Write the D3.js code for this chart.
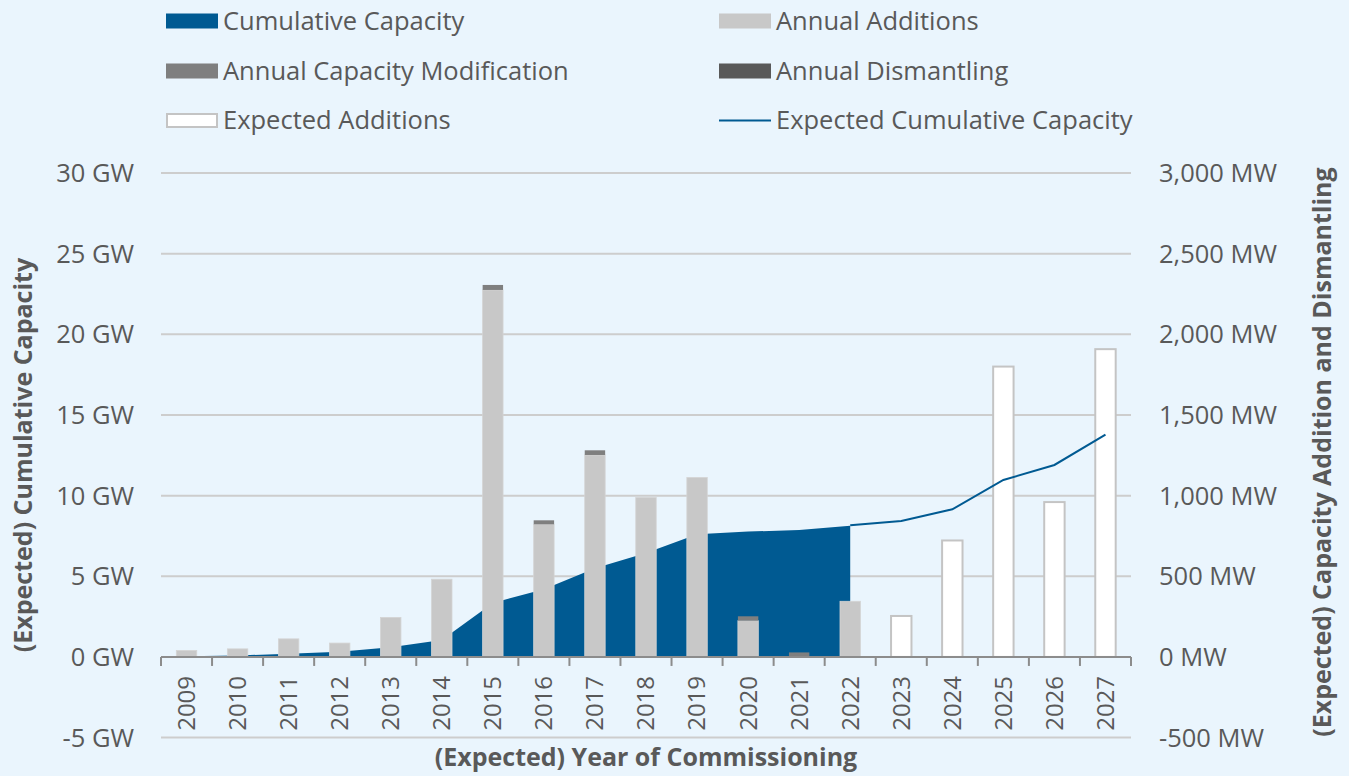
<!DOCTYPE html>
<html>
<head>
<meta charset="utf-8">
<script src="https://cdnjs.cloudflare.com/ajax/libs/d3/7.8.5/d3.min.js"></script>
<style>
  html, body { margin: 0; padding: 0; background: #EAF5FD; }
  svg { display: block; font-family: "Open Sans", "Noto Sans", sans-serif; }
  text { fill: #595959; }
</style>
</head>
<body>
<div id="chart"></div>
<script>
// data
const years = ["2009","2010","2011","2012","2013","2014","2015","2016","2017","2018","2019","2020","2021","2022","2023","2024","2025","2026","2027"];
const cumulativeGW = [0.04,0.09,0.2,0.32,0.6,1.05,3.35,4.2,5.5,6.45,7.6,7.77,7.87,8.14,null,null,null,null,null];
const expectedCumulativeGW = [null,null,null,null,null,null,null,null,null,null,null,null,null,8.16,8.43,9.15,10.97,11.9,13.78];
const additionsMW = [40,50,112,86,245,482,2275,822,1252,988,1112,225,0,345,0,0,0,0,0];
const modificationMW = [0,0,0,0,0,0,31,25,29,0,0,27,28,0,0,0,0,0,0];
const dismantlingMW = [0,0,0,0,0,0,0,0,0,0,0,0,0,0,0,0,0,0,0];
const expectedAdditionsMW = [0,0,0,0,0,0,0,0,0,0,0,0,0,0,254,722,1800,960,1908];
const leftTicks = [-5,0,5,10,15,20,25,30];
const rightTicks = [-500,0,500,1000,1500,2000,2500,3000];

const W = 1349, H = 776;
const plot = { left: 161, right: 1131, top: 173, bottom: 737.6 };

const svg = d3.select("#chart").append("svg")
  .attr("width", W)
  .attr("height", H);

const x = d3.scaleBand().domain(years).range([plot.left, plot.right]).padding(0);
const yL = d3.scaleLinear().domain([-5, 30]).range([plot.bottom, plot.top]);
const yR = d3.scaleLinear().domain([-500, 3000]).range([plot.bottom, plot.top]);

const bw = x.bandwidth() * 0.4;
const bx = d => x(d) + (x.bandwidth() - bw) / 2;
const cx = d => x(d) + x.bandwidth() / 2;

// gridlines
svg.append("g")
  .selectAll("line")
  .data(leftTicks.filter(t => t !== 0))
  .join("line")
  .attr("x1", plot.left).attr("x2", plot.right)
  .attr("y1", d => yL(d)).attr("y2", d => yL(d))
  .attr("stroke", "#CDCDCD")
  .attr("stroke-width", 2);

// cumulative area
const cumData = years.map((y, i) => ({ year: y, v: cumulativeGW[i] })).filter(d => d.v != null);
const area = d3.area()
  .x(d => cx(d.year))
  .y0(yL(0))
  .y1(d => yL(d.v));
svg.append("path")
  .datum(cumData)
  .attr("d", area)
  .attr("fill", "#005A92");

// annual additions
svg.append("g")
  .selectAll("rect")
  .data(years.map((y, i) => ({ year: y, v: additionsMW[i] })).filter(d => d.v > 0))
  .join("rect")
  .attr("x", d => bx(d.year))
  .attr("width", bw)
  .attr("y", d => yR(d.v))
  .attr("height", d => yR(0) - yR(d.v))
  .attr("fill", "#C8C8C8")
  .attr("stroke", "#D4D4D4")
  .attr("stroke-width", 0.8);

// modification stacked on top
svg.append("g")
  .selectAll("rect")
  .data(years.map((y, i) => ({ year: y, base: additionsMW[i], v: modificationMW[i] })).filter(d => d.v > 0))
  .join("rect")
  .attr("x", d => bx(d.year))
  .attr("width", bw)
  .attr("y", d => yR(d.base + d.v))
  .attr("height", d => yR(d.base) - yR(d.base + d.v))
  .attr("fill", "#7F7F7F");

// dismantling (negative)
svg.append("g")
  .selectAll("rect")
  .data(years.map((y, i) => ({ year: y, v: dismantlingMW[i] })).filter(d => d.v > 0))
  .join("rect")
  .attr("x", d => bx(d.year))
  .attr("width", bw)
  .attr("y", yR(0))
  .attr("height", d => yR(-d.v) - yR(0))
  .attr("fill", "#595959");

// expected additions
svg.append("g")
  .selectAll("rect")
  .data(years.map((y, i) => ({ year: y, v: expectedAdditionsMW[i] })).filter(d => d.v > 0))
  .join("rect")
  .attr("x", d => bx(d.year))
  .attr("width", bw)
  .attr("y", d => yR(d.v))
  .attr("height", d => yR(0) - yR(d.v))
  .attr("fill", "#FFFFFF")
  .attr("stroke", "#C4C4C4")
  .attr("stroke-width", 2);

// expected cumulative line
const expData = years.map((y, i) => ({ year: y, v: expectedCumulativeGW[i] })).filter(d => d.v != null);
svg.append("path")
  .datum(expData)
  .attr("d", d3.line().x(d => cx(d.year)).y(d => yL(d.v)))
  .attr("fill", "none")
  .attr("stroke", "#005A92")
  .attr("stroke-width", 2);

// x axis at zero
const xAxis = svg.append("g").attr("transform", `translate(0,${yL(0)})`);
xAxis.append("line")
  .attr("x1", plot.left).attr("x2", plot.right)
  .attr("stroke", "#8C8C8C").attr("stroke-width", 2);
xAxis.selectAll(".tk")
  .data(years.map(y => x(y)).concat([plot.right]))
  .join("line")
  .attr("class", "tk")
  .attr("x1", d => d).attr("x2", d => d)
  .attr("y1", 0).attr("y2", 9)
  .attr("stroke", "#8C8C8C").attr("stroke-width", 2);

// year labels
svg.append("g")
  .selectAll("text")
  .data(years)
  .join("text")
  .attr("transform", d => `translate(${cx(d)},${yL(0) + 19}) rotate(-90)`)
  .attr("text-anchor", "end")
  .attr("dy", "0.35em")
  .style("font-size", "24px")
  .text(d => d);

// tick labels, plain hyphen for negatives as in the source
const fmt = d3.formatLocale({ decimal: ".", thousands: ",", grouping: [3], currency: ["", ""], minus: "-" }).format(",");
svg.append("g")
  .selectAll("text")
  .data(leftTicks)
  .join("text")
  .attr("x", 134)
  .attr("y", d => yL(d))
  .attr("dy", "0.35em")
  .attr("text-anchor", "end")
  .style("font-size", "25.5px")
  .text(d => `${fmt(d)} GW`);

svg.append("g")
  .selectAll("text")
  .data(rightTicks)
  .join("text")
  .attr("x", 1159)
  .attr("y", d => yR(d))
  .attr("dy", "0.35em")
  .attr("text-anchor", "start")
  .style("font-size", "25.5px")
  .text(d => `${fmt(d)} MW`);

// axis titles
svg.append("text")
  .attr("transform", `translate(23,455) rotate(-90)`)
  .attr("text-anchor", "middle")
  .attr("dy", "0.35em")
  .style("font-size", "25px")
  .style("font-weight", "bold")
  .text("(Expected) Cumulative Capacity");

svg.append("text")
  .attr("transform", `translate(1322,452) rotate(-90)`)
  .attr("text-anchor", "middle")
  .attr("dy", "0.35em")
  .style("font-size", "25px")
  .style("font-weight", "bold")
  .text("(Expected) Capacity Addition and Dismantling");

svg.append("text")
  .attr("x", 646)
  .attr("y", 757)
  .attr("text-anchor", "middle")
  .attr("dy", "0.35em")
  .style("font-size", "25px")
  .style("font-weight", "bold")
  .text("(Expected) Year of Commissioning");

// legend
const legendItems = [
  { label: "Cumulative Capacity", type: "rect", fill: "#005A92", col: 0, row: 0 },
  { label: "Annual Additions", type: "rect", fill: "#C8C8C8", col: 1, row: 0 },
  { label: "Annual Capacity Modification", type: "rect", fill: "#7F7F7F", col: 0, row: 1 },
  { label: "Annual Dismantling", type: "rect", fill: "#595959", col: 1, row: 1 },
  { label: "Expected Additions", type: "empty", fill: "#FFFFFF", col: 0, row: 2 },
  { label: "Expected Cumulative Capacity", type: "line", fill: "#005A92", col: 1, row: 2 }
];
const colX = [166, 719];
const rowY = [21, 71, 120.5];
const lg = svg.append("g")
  .selectAll("g")
  .data(legendItems)
  .join("g")
  .attr("transform", d => `translate(${colX[d.col]},${rowY[d.row]})`);

lg.filter(d => d.type !== "line").append("rect")
  .attr("x", d => d.type === "empty" ? 1 : 0)
  .attr("y", d => d.type === "empty" ? -6.5 : -7.5)
  .attr("width", d => d.type === "empty" ? 50 : 52)
  .attr("height", d => d.type === "empty" ? 13 : 15)
  .attr("fill", d => d.fill)
  .attr("stroke", d => d.type === "empty" ? "#C4C4C4" : "none")
  .attr("stroke-width", 2);

lg.filter(d => d.type === "line").append("line")
  .attr("x1", 0).attr("x2", 52)
  .attr("stroke", d => d.fill)
  .attr("stroke-width", 2);

lg.append("text")
  .attr("x", 57)
  .attr("dy", "0.35em")
  .style("font-size", "25.5px")
  .text(d => d.label);
</script>
</body>
</html>
